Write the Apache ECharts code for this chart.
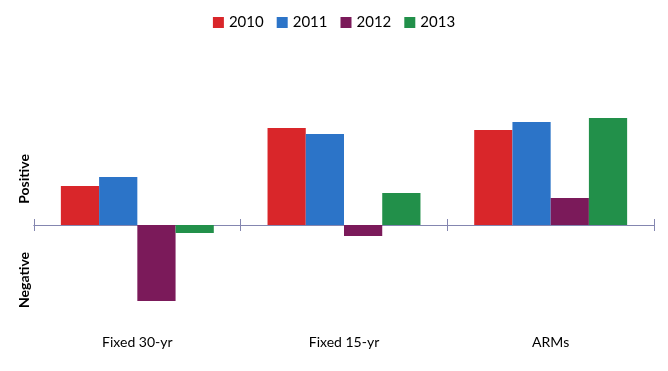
<!DOCTYPE html>
<html>
<head>
<meta charset="utf-8">
<script src="https://cdn.jsdelivr.net/npm/echarts@6/dist/echarts.min.js"></script>
<style>html,body{margin:0;padding:0;background:#fff}#c{width:668px;height:371px}</style>
</head>
<body>
<div id="c"></div>
<script>
var categories = ['Fixed 30-yr', 'Fixed 15-yr', 'ARMs'];
var years = ['2010', '2011', '2012', '2013'];
var s2010 = [39, 97, 95];
var s2011 = [48, 91, 103];
var s2012 = [-76, -11, 27];
var s2013 = [-8, 32, 107];
var yLabels = ['Negative', 'Positive'];
var yLabelValues = [-55, 46];

var colors = ['#d9262a', '#2c74c8', '#7b1a5a', '#22904a'];
var seriesData = [s2010, s2011, s2012, s2013];
var font = 'Lato';
var axisColor = '#8486b0';

var chart = echarts.init(document.getElementById('c'));
var series = years.map(function (y, i) {
  return {
    name: y, type: 'bar', xAxisIndex: 0, yAxisIndex: 0,
    data: seriesData[i], itemStyle: { color: colors[i] },
    barGap: '0%', barCategoryGap: '26%'
  };
});
chart.setOption({
  animation: false,
  color: colors,
  legend: {
    data: years, top: 10, left: 'center', icon: 'rect',
    itemWidth: 11, itemHeight: 11, itemGap: 13,
    textStyle: { fontFamily: font, fontSize: 15, color: '#000' }
  },
  grid: { left: 34, right: 14, top: 115, bottom: 46, containLabel: false },
  xAxis: [
    { type: 'category', data: categories, position: 'bottom',
      axisLine: { onZero: true, onZeroAxisIndex: 0, lineStyle: { color: axisColor, width: 1 } },
      axisTick: { show: true, length: 6, inside: false, lineStyle: { color: axisColor } },
      axisLabel: { show: false } },
    { type: 'category', data: categories, position: 'bottom',
      axisLine: { onZero: true, onZeroAxisIndex: 1, lineStyle: { color: axisColor, width: 1 } },
      axisTick: { show: true, length: 6, inside: true, lineStyle: { color: axisColor } },
      axisLabel: { show: false } },
    { type: 'category', data: categories, position: 'bottom',
      axisLine: { show: false, onZero: false }, axisTick: { show: false },
      axisLabel: { show: true, margin: 10, fontFamily: font, fontSize: 14, color: '#000' } }
  ],
  yAxis: [{
    type: 'value', min: -100, max: 110,
    axisLine: { show: false }, axisTick: { show: false }, splitLine: { show: false },
    axisLabel: {
      show: true, rotate: 90, margin: 3,
      customValues: yLabelValues,
      formatter: function (v) { return v > 0 ? yLabels[1] : yLabels[0]; },
      fontFamily: font, fontSize: 14, fontWeight: 'bold', color: '#000'
    }
  }, {
    type: 'value', min: -100, max: 110, show: false,
    axisLine: { show: false }, axisTick: { show: false }, splitLine: { show: false },
    axisLabel: { show: false }
  }],
  series: series
});
</script>
</body>
</html>
